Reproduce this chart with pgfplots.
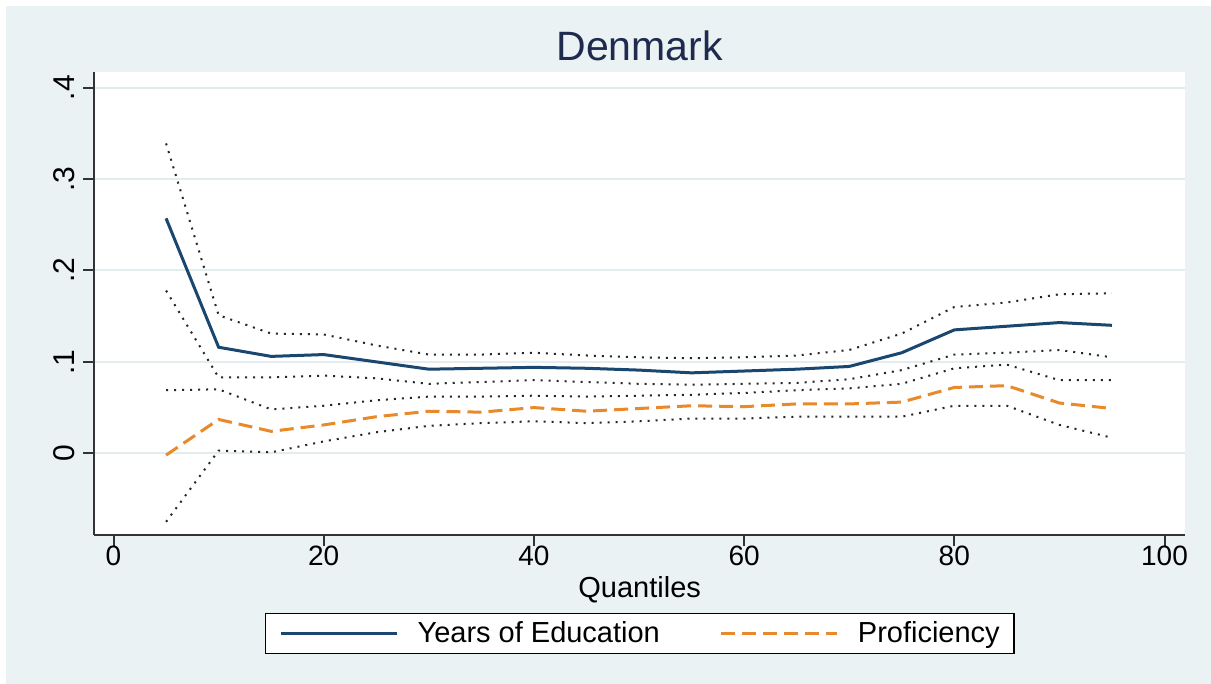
\documentclass[border=0pt]{standalone}
\usepackage{fontspec}
\setmainfont{Liberation Sans}
\usepackage{pgfplots}
\usepackage{pgfplotstable}
\pgfplotsset{compat=1.18}

\definecolor{bgcol}{HTML}{EAF2F3}
\definecolor{gridcol}{HTML}{E3EDF0}
\definecolor{edublue}{HTML}{1A476F}
\definecolor{proforange}{HTML}{E8892A}
\definecolor{titlecol}{HTML}{1E2A4E}

% quantile, education coef + CI, proficiency coef + CI
\pgfplotstableread{
q  edu   edulo eduhi prof   proflo profhi
5  0.257 0.178 0.339 -0.002 -0.075 0.069
10 0.116 0.083 0.151 0.037  0.003  0.070
15 0.106 0.083 0.131 0.024  0.001  0.048
20 0.108 0.085 0.130 0.031  0.013  0.052
25 0.100 0.082 0.118 0.040  0.023  0.058
30 0.092 0.076 0.108 0.046  0.030  0.062
35 0.093 0.078 0.108 0.045  0.033  0.062
40 0.094 0.080 0.110 0.050  0.035  0.063
45 0.093 0.078 0.107 0.046  0.033  0.062
50 0.091 0.076 0.105 0.049  0.035  0.063
55 0.088 0.075 0.104 0.052  0.038  0.064
60 0.090 0.076 0.105 0.051  0.038  0.066
65 0.092 0.077 0.107 0.054  0.040  0.069
70 0.095 0.081 0.113 0.054  0.040  0.071
75 0.110 0.091 0.131 0.056  0.040  0.076
80 0.135 0.108 0.160 0.072  0.052  0.093
85 0.139 0.110 0.165 0.074  0.052  0.097
90 0.143 0.113 0.174 0.055  0.031  0.080
95 0.140 0.105 0.175 0.049  0.017  0.080
}\dk

\begin{document}
\begin{tikzpicture}
\fill[white] (0,0) rectangle (605.5pt,342pt);
\fill[bgcol] (3pt,0) rectangle (605.5pt,339pt);
\begin{axis}[
  at={(47.15pt,74.5pt)}, anchor=south west,
  scale only axis, width=545.35pt, height=231.65pt,
  xmin=-1.83, xmax=101.95, ymin=-0.0894, ymax=0.4175,
  axis x line*=bottom, axis y line*=left,
  axis line style={line width=1pt, black!80},
  axis background/.style={fill=white},
  tick align=outside, major tick length=5.5pt,
  tick style={line width=1pt, black!80},
  xtick={0,20,40,60,80,100}, xticklabels={0,20,40,60,80,100},
  ytick={0,0.1,0.2,0.3,0.4}, yticklabels={0,.1,.2,.3,.4},
  xticklabel style={font=\fontsize{14}{16}\selectfont, inner sep=0pt, anchor=north},
  yticklabel shift=4pt,
  yticklabel style={font=\fontsize{15}{17}\selectfont, inner sep=0pt, rotate=90, anchor=south},
  ymajorgrids, grid style={gridcol, line width=1pt},
  title={Denmark},
  title style={at={(0.5,1)}, anchor=base, yshift=-0.5pt, inner sep=0pt,
    font=\fontsize{20.5}{24}\selectfont, color=titlecol},
  xlabel={Quantiles},
  xlabel style={at={(axis description cs:0.5,0)}, anchor=north, yshift=-20.5pt, inner sep=0pt,
    font=\fontsize{14.5}{17}\selectfont},
  legend style={at={(0.5,-0.2127)}, anchor=center, draw=black, line width=0.8pt, fill=white,
    font=\fontsize{14.5}{17}\selectfont, inner xsep=7pt, inner ysep=4pt,
    nodes={inner sep=0pt},
    /tikz/every odd column/.append style={column sep=9.5pt},
    /tikz/every even column/.append style={column sep=30pt}},
  legend columns=2, legend cell align=left,
  legend image code/.code={\draw[#1] (0pt,0pt) -- (58pt,0pt);},
]
\addplot[black!85, line width=1pt, dash pattern=on 1pt off 3pt, forget plot] table[x=q, y=eduhi] {\dk};
\addplot[black!85, line width=1pt, dash pattern=on 1pt off 3pt, forget plot] table[x=q, y=edulo] {\dk};
\addplot[black!85, line width=1pt, dash pattern=on 1pt off 3pt, forget plot] table[x=q, y=profhi] {\dk};
\addplot[black!85, line width=1pt, dash pattern=on 1pt off 3pt, forget plot] table[x=q, y=proflo] {\dk};
\addplot[edublue, line width=1.5pt] table[x=q, y=edu] {\dk};
\addlegendentry{Years of Education}
\addplot[proforange, line width=1.5pt, dash pattern=on 7pt off 3.5pt] table[x=q, y=prof] {\dk};
\addlegendentry{Proficiency}
\end{axis}
\pgfresetboundingbox
\path (0,0) rectangle (605.5pt,342pt);
\end{tikzpicture}
\end{document}
